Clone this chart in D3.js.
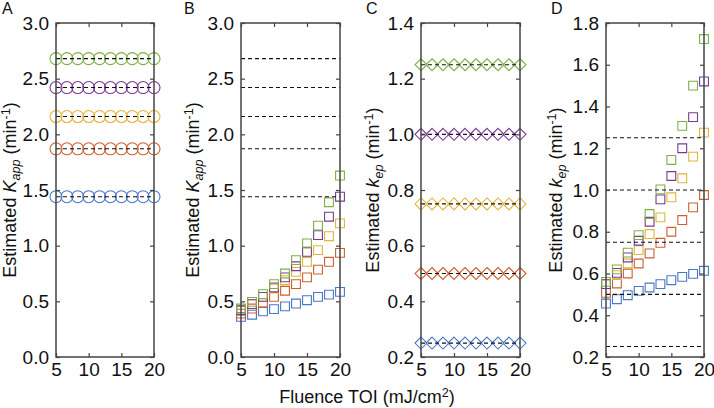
<!DOCTYPE html>
<html><head><meta charset="utf-8">
<script src="https://cdn.jsdelivr.net/npm/d3@7"></script>
<style>
body{margin:0;background:#fff;}
text{font-family:"Liberation Sans",Arial,sans-serif;fill:#111;}
</style></head>
<body><svg id="c" width="714" height="408"></svg>
<script>
// ---- data ----
const fluence = [5, 6.67, 8.33, 10, 11.67, 13.33, 15, 16.67, 18.33, 20];
const xTicks = [5, 10, 15, 20];
const seriesColors = ["#4a78c6", "#cc6033", "#e2b43a", "#7a3a94", "#7fb046"];
const trueKapp = [1.44, 1.87, 2.16, 2.42, 2.68];
const trueKep = [0.25, 0.50, 0.75, 1.00, 1.25];
const kappTicks = [0, 0.5, 1.0, 1.5, 2.0, 2.5, 3.0];
const kepTicksC = [0.2, 0.4, 0.6, 0.8, 1.0, 1.2, 1.4];
const kepTicksD = [0.2, 0.4, 0.6, 0.8, 1.0, 1.2, 1.4, 1.6, 1.8];

// Panel A
const estKappA = [
  [1.44,1.44,1.44,1.44,1.44,1.44,1.44,1.44,1.44,1.44],
  [1.87,1.87,1.87,1.87,1.87,1.87,1.87,1.87,1.87,1.87],
  [2.16,2.16,2.16,2.16,2.16,2.16,2.16,2.16,2.16,2.16],
  [2.42,2.42,2.42,2.42,2.42,2.42,2.42,2.42,2.42,2.42],
  [2.68,2.68,2.68,2.68,2.68,2.68,2.68,2.68,2.68,2.68]
];
// Panel B
const estKappB = [
  [0.36, 0.38, 0.41, 0.43, 0.455, 0.48, 0.51, 0.54, 0.56, 0.585],
  [0.39, 0.435, 0.485, 0.54, 0.595, 0.655, 0.715, 0.785, 0.855, 0.935],
  [0.415, 0.475, 0.54, 0.615, 0.69, 0.765, 0.855, 0.96, 1.085, 1.20],
  [0.42, 0.475, 0.54, 0.625, 0.715, 0.815, 0.945, 1.095, 1.26, 1.44],
  [0.435, 0.495, 0.565, 0.655, 0.75, 0.87, 1.02, 1.18, 1.39, 1.63]
];
// Panel C
const estKepC = [
  [0.25,0.25,0.25,0.25,0.25,0.25,0.25,0.25,0.25,0.25],
  [0.50,0.50,0.50,0.50,0.50,0.50,0.50,0.50,0.50,0.50],
  [0.75,0.75,0.75,0.75,0.75,0.75,0.75,0.75,0.75,0.75],
  [1.00,1.00,1.00,1.00,1.00,1.00,1.00,1.00,1.00,1.00],
  [1.25,1.25,1.25,1.25,1.25,1.25,1.25,1.25,1.25,1.25]
];
// Panel D
const estKepD = [
  [0.456, 0.477, 0.496, 0.517, 0.533, 0.549, 0.568, 0.584, 0.598, 0.613],
  [0.507, 0.552, 0.60, 0.648, 0.696, 0.747, 0.80, 0.856, 0.917, 0.976],
  [0.549, 0.592, 0.648, 0.712, 0.789, 0.869, 0.965, 1.056, 1.16, 1.275],
  [0.549, 0.603, 0.677, 0.757, 0.848, 0.955, 1.067, 1.20, 1.349, 1.52],
  [0.56, 0.62, 0.70, 0.784, 0.885, 1.003, 1.144, 1.307, 1.50, 1.723]
];

// ---- drawing ----
const svg = d3.select("#c");
const TOP = 23, BOTTOM = 357;
const FS = 18, TFS = 19;

function drawPanel(o){
  const x = d3.scaleLinear().domain([5,20]).range([o.x0, o.x1]);
  const y = d3.scaleLinear().domain(o.yDomain).range([BOTTOM, TOP]);
  const g = svg.append("g");

  o.est.forEach((arr, si) => {
    const col = seriesColors[si];
    const sel = g.append("g").selectAll("path").data(arr).join("path")
      .attr("fill","none").attr("stroke",col).attr("stroke-width",1.1)
      .attr("transform",(d,i)=>`translate(${x(fluence[i])},${y(d)})`);
    if(o.marker==="circle") sel.attr("d", "M-6,0A6,6 0 1,0 6,0A6,6 0 1,0 -6,0Z");
    else if(o.marker==="diamond") sel.attr("d","M0,-6L6,0L0,6L-6,0Z");
    else sel.attr("d","M-4.4,-4.4H4.4V4.4H-4.4Z");
  });

  g.append("g").selectAll("line").data(o.truth).join("line")
    .attr("x1", x(5)).attr("x2", x(20))
    .attr("y1", d=>y(d)).attr("y2", d=>y(d))
    .attr("stroke","#111").attr("stroke-width",1.1).attr("stroke-dasharray","4,3");

  const axCol = "#444";
  const yl = g.append("g").attr("transform",`translate(${o.x0},0)`)
    .call(d3.axisLeft(y).tickValues(o.yTicks).tickFormat(d3.format(".1f")).tickSize(-4).tickPadding(7));
  const yr = g.append("g").attr("transform",`translate(${o.x1},0)`)
    .call(d3.axisRight(y).tickValues(o.yTicks).tickFormat("").tickSize(-4));
  const xb = g.append("g").attr("transform",`translate(0,${BOTTOM})`)
    .call(d3.axisBottom(x).tickValues(xTicks).tickFormat(d3.format("d")).tickSize(-4).tickPadding(5));
  const xt = g.append("g").attr("transform",`translate(0,${TOP})`)
    .call(d3.axisTop(x).tickValues(xTicks).tickFormat("").tickSize(-4));
  [yl,yr,xb,xt].forEach(a=>{
    a.select(".domain").remove();
    a.selectAll("line").attr("stroke",axCol).attr("stroke-width",1.2);
    a.selectAll("text").attr("font-size",TFS).attr("fill","#111")
      .style("font-family",'"Liberation Sans",Arial,sans-serif');
  });
  xb.selectAll("text").attr("dy","0.75em");
  g.append("rect").attr("x",o.x0).attr("y",TOP).attr("width",o.x1-o.x0).attr("height",BOTTOM-TOP)
    .attr("fill","none").attr("stroke",axCol).attr("stroke-width",1.5);

  g.append("text").attr("x",o.letterX).attr("y",14).attr("font-size",16).text(o.letter);

  const t = g.append("text").attr("font-size",FS)
    .attr("transform",`translate(${o.labelX},${(TOP+BOTTOM)/2}) rotate(-90)`)
    .attr("text-anchor","middle");
  t.append("tspan").text("Estimated ");
  t.append("tspan").attr("font-style","italic").text(o.sym);
  t.append("tspan").attr("font-style","italic").attr("font-size","0.7em").attr("dy","0.3em").text(o.sub);
  t.append("tspan").attr("dy","-0.21em").text(" (min");
  t.append("tspan").attr("font-size","0.7em").attr("dy","-0.45em").text("-1");
  t.append("tspan").attr("dy","0.32em").text(")");
}

drawPanel({letter:"A", letterX:2, x0:56, x1:154, yDomain:[0,3], yTicks:kappTicks, est:estKappA, truth:trueKapp, marker:"circle", labelX:16, sym:"K", sub:"app"});
drawPanel({letter:"B", letterX:184, x0:241, x1:340, yDomain:[0,3], yTicks:kappTicks, est:estKappB, truth:trueKapp, marker:"square", labelX:199, sym:"K", sub:"app"});
drawPanel({letter:"C", letterX:366, x0:421, x1:520, yDomain:[0.2,1.4], yTicks:kepTicksC, est:estKepC, truth:trueKep, marker:"diamond", labelX:379, sym:"k", sub:"ep"});
drawPanel({letter:"D", letterX:551, x0:606, x1:704, yDomain:[0.2,1.8], yTicks:kepTicksD, est:estKepD, truth:trueKep, marker:"square", labelX:562, sym:"k", sub:"ep"});

const xl = svg.append("text").attr("x",367).attr("y",403).attr("text-anchor","middle").attr("font-size",FS);
xl.append("tspan").text("Fluence TOI (mJ/cm");
xl.append("tspan").attr("font-size","0.7em").attr("dy","-0.45em").text("2");
xl.append("tspan").attr("dy","0.32em").text(")");
</script></body></html>
